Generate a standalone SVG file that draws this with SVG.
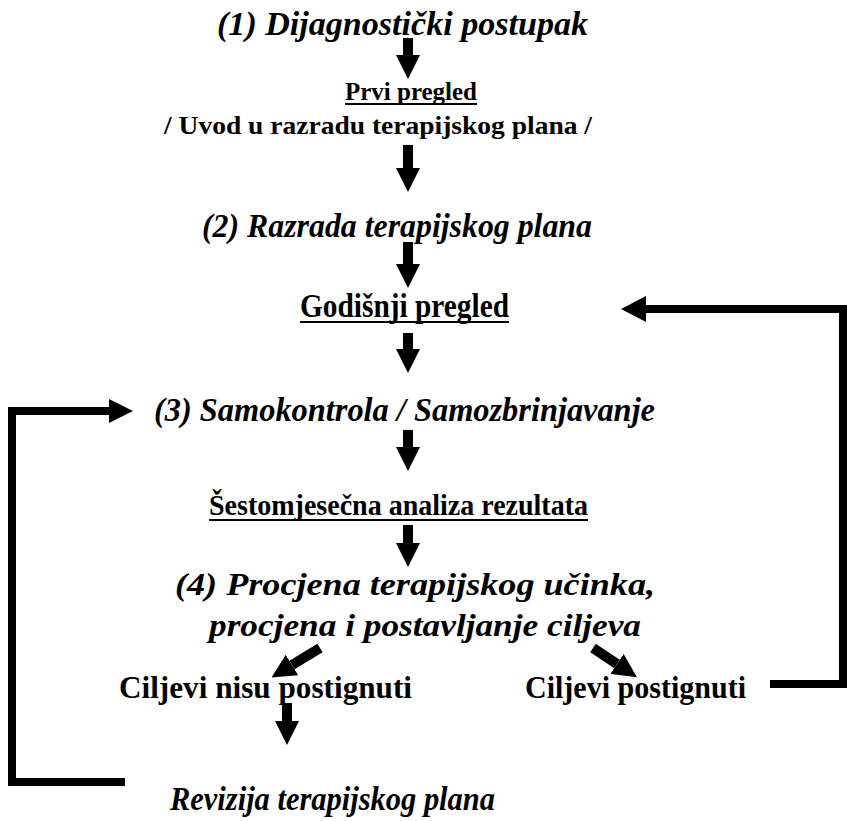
<svg xmlns="http://www.w3.org/2000/svg" width="847" height="821" viewBox="0 0 847 821">
<defs>
<style>
.bi{font-family:"Liberation Serif","Times New Roman",serif;font-weight:bold;font-style:italic;fill:#000}
.b{font-family:"Liberation Serif","Times New Roman",serif;font-weight:bold;fill:#000}
.c{fill:none;stroke:#000;stroke-width:10;stroke-linejoin:miter}
.loop{fill:none;stroke:#000;stroke-width:8;stroke-linejoin:miter}
.ul{stroke:#000;stroke-width:2}
.s24{font-size:25px}
.s30{font-size:30px}
.s32{font-size:32px}
.s33{font-size:33px}
.s34{font-size:34px}
</style>
<marker id="ah" markerUnits="userSpaceOnUse" markerWidth="24" markerHeight="24" refX="0" refY="12" orient="auto" viewBox="0 0 24 24">
<path d="M0,0 L24,12 L0,24 z" fill="#000"/>
</marker>
<marker id="ah2" markerUnits="userSpaceOnUse" markerWidth="25" markerHeight="26" refX="0" refY="13" orient="auto" viewBox="0 0 25 26">
<path d="M0,0 L25,13 L0,26 z" fill="#000"/>
</marker>
</defs>
<rect width="847" height="821" fill="#fff"/>
<g id="n1"><text class="bi s34" x="217" y="35" textLength="371" lengthAdjust="spacingAndGlyphs">(1) Dijagnostički postupak</text></g>
<g id="n2"><text class="b s24" x="345" y="100" textLength="132" lengthAdjust="spacingAndGlyphs">Prvi pregled</text><line class="ul" x1="345" y1="104" x2="477" y2="104"/></g>
<g id="n3"><text class="b s24" x="164" y="134" textLength="428" lengthAdjust="spacingAndGlyphs">/ Uvod u razradu terapijskog plana /</text></g>
<g id="n4"><text class="bi s34" x="202" y="237" textLength="390" lengthAdjust="spacingAndGlyphs">(2) Razrada terapijskog plana</text></g>
<g id="n5"><text class="b s33" x="300" y="317" textLength="209" lengthAdjust="spacingAndGlyphs">Godišnji pregled</text><line class="ul" x1="300" y1="322" x2="509" y2="322"/></g>
<g id="n6"><text class="bi s33" x="154" y="421" textLength="501" lengthAdjust="spacingAndGlyphs">(3) Samokontrola / Samozbrinjavanje</text></g>
<g id="n7"><text class="b s30" x="209" y="515" textLength="379" lengthAdjust="spacingAndGlyphs">Šestomjesečna analiza rezultata</text><line class="ul" x1="209" y1="520" x2="588" y2="520"/></g>
<g id="n8"><text class="bi s32" x="175" y="595" textLength="480" lengthAdjust="spacingAndGlyphs">(4)  Procjena terapijskog učinka,</text><text class="bi s32" x="209" y="636" textLength="432" lengthAdjust="spacingAndGlyphs">procjena i postavljanje ciljeva</text></g>
<g id="n9"><text class="b s32" x="119" y="698" textLength="293" lengthAdjust="spacingAndGlyphs">Ciljevi nisu postignuti</text></g>
<g id="n10"><text class="b s32" x="525" y="698" textLength="221" lengthAdjust="spacingAndGlyphs">Ciljevi postignuti</text></g>
<g id="n11"><text class="bi s34" x="170" y="810" textLength="325" lengthAdjust="spacingAndGlyphs">Revizija terapijskog plana</text></g>
<g id="connectors">
<line class="c" x1="408" y1="38" x2="408" y2="55" marker-end="url(#ah)"/>
<line class="c" x1="408" y1="145" x2="408" y2="168" marker-end="url(#ah)"/>
<line class="c" x1="408" y1="242" x2="408" y2="264" marker-end="url(#ah)"/>
<line class="c" x1="408" y1="333" x2="408" y2="349" marker-end="url(#ah)"/>
<line class="c" x1="408" y1="430" x2="408" y2="447" marker-end="url(#ah)"/>
<line class="c" x1="408" y1="525" x2="408" y2="543" marker-end="url(#ah)"/>
<line class="c" x1="320" y1="648" x2="292" y2="665" marker-end="url(#ah)"/>
<line class="c" x1="593" y1="648" x2="617" y2="664" marker-end="url(#ah)"/>
<line class="c" x1="287" y1="703" x2="287" y2="721" marker-end="url(#ah)"/>
<polyline class="loop" points="125,782 12,782 12,411 109,411" marker-end="url(#ah)"/>
<polyline class="loop" points="770,684 843,684 843,309 646,309" marker-end="url(#ah2)"/>
</g>
</svg>
